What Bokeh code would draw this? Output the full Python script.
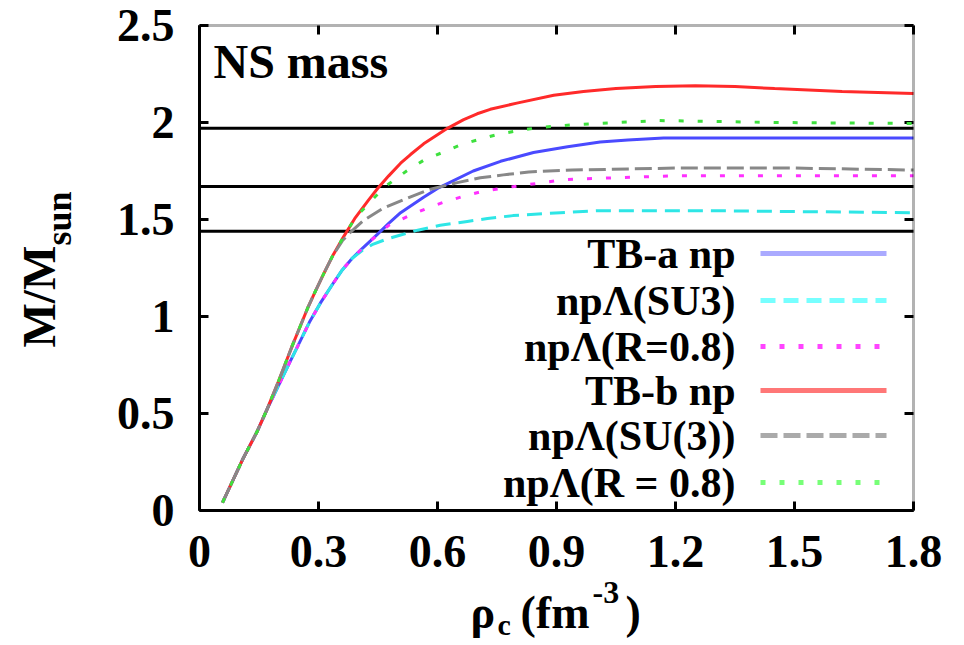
import math
from bokeh.plotting import figure
from bokeh.models import (Label, Arrow, FixedTicker, LinearAxis, Range1d,
                          BoxAnnotation, CustomJSTickFormatter)
from bokeh.embed import file_html
from bokeh.resources import INLINE

# ---------------- data ----------------
x_ticks = [0, 0.3, 0.6, 0.9, 1.2, 1.5, 1.8]
x_tick_labels = ["0", "0.3", "0.6", "0.9", "1.2", "1.5", "1.8"]
y_ticks = [0, 0.5, 1, 1.5, 2, 2.5]
y_tick_labels = ["0", "0.5", "1", "1.5", "2", "2.5"]

obs_masses = [1.97, 1.67, 1.44]

# TB-a np (blue, solid)
tba_np_rho = [0.058, 0.083, 0.108, 0.146, 0.17, 0.204, 0.229, 0.252, 0.277, 0.305,
              0.335, 0.36, 0.385, 0.41, 0.431, 0.449, 0.477, 0.507, 0.565, 0.60,
              0.625, 0.69, 0.759, 0.842, 0.928, 1.01, 1.08, 1.17, 1.4, 1.8]
tba_np_mass = [0.04, 0.15, 0.26, 0.41, 0.52, 0.665, 0.77, 0.865, 0.97, 1.07,
               1.165, 1.24, 1.30, 1.35, 1.39, 1.425, 1.48, 1.535, 1.615, 1.66,
               1.685, 1.75, 1.80, 1.845, 1.875, 1.90, 1.91, 1.92, 1.92, 1.92]

# TB-a np Lambda (SU3) (cyan, dashed)
tba_su3_rho = [0.058, 0.083, 0.108, 0.146, 0.17, 0.204, 0.229, 0.252, 0.277, 0.305,
               0.335, 0.36, 0.385, 0.41, 0.435, 0.473, 0.507, 0.55, 0.607, 0.675,
               0.726, 0.79, 0.91, 1.0, 1.3, 1.8]
tba_su3_mass = [0.04, 0.15, 0.26, 0.41, 0.52, 0.665, 0.77, 0.865, 0.97, 1.07,
                1.165, 1.24, 1.30, 1.34, 1.37, 1.40, 1.42, 1.445, 1.47, 1.49,
                1.505, 1.52, 1.535, 1.545, 1.545, 1.535]

# TB-a np Lambda (R=0.8) (magenta, dotted)
tba_r08_rho = [0.058, 0.083, 0.108, 0.146, 0.17, 0.204, 0.229, 0.252, 0.277, 0.305,
               0.335, 0.36, 0.385, 0.41, 0.431, 0.477, 0.524, 0.57, 0.613, 0.666,
               0.713, 0.759, 0.81, 0.867, 0.918, 0.968, 1.2, 1.5, 1.8]
tba_r08_mass = [0.04, 0.15, 0.26, 0.41, 0.52, 0.665, 0.77, 0.865, 0.97, 1.07,
                1.165, 1.24, 1.30, 1.35, 1.39, 1.47, 1.515, 1.555, 1.587, 1.62,
                1.645, 1.66, 1.675, 1.69, 1.705, 1.71, 1.725, 1.725, 1.725]

# TB-b np (red, solid)
tbb_np_rho = [0.058, 0.083, 0.108, 0.146, 0.17, 0.197, 0.217, 0.234, 0.255, 0.272,
              0.292, 0.313, 0.335, 0.36, 0.393, 0.426, 0.449, 0.477, 0.507, 0.532,
              0.565, 0.625, 0.666, 0.70, 0.733, 0.80, 0.893, 0.968, 1.05, 1.15,
              1.25, 1.35, 1.45, 1.62, 1.80]
tbb_np_mass = [0.04, 0.15, 0.26, 0.41, 0.52, 0.655, 0.76, 0.85, 0.955, 1.04,
               1.13, 1.22, 1.31, 1.40, 1.51, 1.60, 1.66, 1.725, 1.79, 1.835,
               1.89, 1.97, 2.015, 2.045, 2.068, 2.10, 2.14, 2.16, 2.175, 2.185,
               2.19, 2.185, 2.175, 2.16, 2.15]

# TB-b np Lambda (SU(3)) (grey, dashed)
tbb_su3_rho = [0.058, 0.083, 0.108, 0.146, 0.17, 0.197, 0.217, 0.234, 0.255, 0.272,
               0.292, 0.313, 0.335, 0.36, 0.378, 0.413, 0.461, 0.524, 0.58, 0.65,
               0.708, 0.766, 0.83, 0.94, 1.2, 1.5, 1.8]
tbb_su3_mass = [0.04, 0.15, 0.26, 0.41, 0.52, 0.655, 0.76, 0.85, 0.955, 1.04,
                1.13, 1.22, 1.31, 1.39, 1.43, 1.494, 1.556, 1.61, 1.655, 1.69,
                1.715, 1.73, 1.745, 1.755, 1.765, 1.765, 1.755]

# TB-b np Lambda (R = 0.8) (green, dotted)
tbb_r08_rho = [0.058, 0.083, 0.108, 0.146, 0.17, 0.197, 0.217, 0.234, 0.255, 0.272,
               0.292, 0.313, 0.335, 0.36, 0.393, 0.444, 0.475, 0.522, 0.565, 0.612,
               0.658, 0.708, 0.754, 0.81, 0.86, 0.953, 1.16, 1.457, 1.8]
tbb_r08_mass = [0.04, 0.15, 0.26, 0.41, 0.52, 0.655, 0.76, 0.85, 0.955, 1.04,
                1.13, 1.22, 1.31, 1.40, 1.51, 1.62, 1.68, 1.75, 1.805, 1.845,
                1.885, 1.915, 1.94, 1.96, 1.975, 1.99, 2.01, 2.0, 1.995]

series_labels = ["TB-a np", "np\u039b(SU3)", "np\u039b(R=0.8)",
                 "TB-b np", "np\u039b(SU(3))", "np\u039b(R = 0.8)"]

# ---------------- styles / layout ----------------
FONT = "Liberation Serif"
styles = [
    dict(color="#4a4aff", dash="solid", lg="#aaaaff"),
    dict(color="#2ee6e6", dash="15 8", lg="#77ffff"),
    dict(color="#ff30ff", dash="5 14", lg="#ff44ff"),
    dict(color="#ff2a2a", dash="solid", lg="#ff7777"),
    dict(color="#888888", dash="17 6", lg="#aaaaaa"),
    dict(color="#3ee03e", dash="5 14", lg="#77ff77"),
]
series = [(tba_np_rho, tba_np_mass), (tba_su3_rho, tba_su3_mass),
          (tba_r08_rho, tba_r08_mass), (tbb_np_rho, tbb_np_mass),
          (tbb_su3_rho, tbb_su3_mass), (tbb_r08_rho, tbb_r08_mass)]

W, H = 964, 645
# plot box on the page (pixels)
FL, FR, FT, FB = 199, 913, 25, 510
XMIN, XMAX, YMIN, YMAX = 0, 1.8, 0, 2.5
XS = (FR - FL) / (XMAX - XMIN)   # px per x unit
YS = (FB - FT) / (YMAX - YMIN)   # px per y unit
MID = 0.33                       # cap-centre above baseline, in em


def dx(px):
    return XMIN + (px - FL) / XS


def dy(py):
    return YMIN + (FB - py) / YS


p = figure(width=W, height=H,
           x_range=Range1d(dx(0), dx(W)), y_range=Range1d(dy(H), dy(0)),
           x_axis_type=None, y_axis_type=None,
           output_backend="svg", toolbar_location=None,
           min_border_left=0, min_border_right=0, min_border_top=0, min_border_bottom=0)
p.background_fill_color = "white"
p.border_fill_color = "white"
p.outline_line_color = None

FMT_CODE = ("const i = tks.findIndex(t => Math.abs(t - tick) < 1e-9); "
            "return i >= 0 ? lbls[i] : '';")
xfmt = CustomJSTickFormatter(args=dict(tks=x_ticks, lbls=x_tick_labels), code=FMT_CODE)
yfmt = CustomJSTickFormatter(args=dict(tks=y_ticks, lbls=y_tick_labels), code=FMT_CODE)


def make_axis(ticks, fmt, standoff, loc, bounds):
    ax = LinearAxis(fixed_location=loc, bounds=bounds)
    ax.ticker = FixedTicker(ticks=ticks)
    ax.formatter = fmt
    ax.axis_line_width = 3
    ax.axis_line_color = "black"
    ax.major_tick_in = 9
    ax.major_tick_out = 0
    ax.major_tick_line_width = 3
    ax.major_tick_line_color = "black"
    ax.minor_tick_line_color = None
    ax.major_label_text_font = FONT
    ax.major_label_text_font_style = "bold"
    ax.major_label_text_font_size = "46px"
    ax.major_label_text_color = "black"
    ax.major_label_standoff = standoff
    return ax


p.add_layout(make_axis(x_ticks, xfmt, 25, YMIN, (XMIN, XMAX)), "below")
p.add_layout(make_axis(y_ticks, yfmt, 25, XMIN, (YMIN, YMAX)), "left")

# plot box
p.add_layout(BoxAnnotation(left=XMIN, right=XMAX, bottom=YMIN, top=YMAX,
                           fill_color=None, line_color="black", line_width=3))
# mirrored ticks on top and right sides
TICK = 9
p.segment(x0=x_ticks, y0=[YMAX] * len(x_ticks), x1=x_ticks,
          y1=[YMAX - TICK / YS] * len(x_ticks), line_color="black", line_width=3)
p.segment(x0=[XMAX] * len(y_ticks), y0=y_ticks, x1=[XMAX - TICK / XS] * len(y_ticks),
          y1=y_ticks, line_color="black", line_width=3)

# observational mass lines
p.segment(x0=[XMIN] * len(obs_masses), y0=obs_masses, x1=[XMAX] * len(obs_masses),
          y1=obs_masses, line_color="black", line_width=3)

# curves
for (xs, ys), st in zip(series, styles):
    p.line(xs, ys, line_color=st["color"], line_width=3, line_dash=st["dash"])


def text(t, px, baseline_py, size, align="left", angle=0.0):
    """Place a bold serif text whose baseline is at the given page pixel."""
    if angle:
        x, y = dx(px - MID * size), dy(baseline_py)
    else:
        x, y = dx(px), dy(baseline_py - MID * size)
    p.add_layout(Label(x=x, y=y, text=t, text_align=align, angle=angle,
                       text_baseline="middle", text_font=FONT, text_font_style="bold",
                       text_font_size=f"{size}px", text_color="black"))


# legend (text right-aligned, sample to the right)
legend_rows_py = [253, 300, 346, 390, 435, 482]
for lab, st, py in zip(series_labels, styles, legend_rows_py):
    text(lab, 735, py + MID * 42, 42, align="right")
    p.add_layout(Arrow(end=None, x_start=dx(760), y_start=dy(py), x_end=dx(886), y_end=dy(py),
                       line_color=st["lg"], line_width=5, line_dash=st["dash"]))

# panel title
text("NS mass", 213, 77, 48)

# x axis label: rho_c (fm^-3)
text("\u03c1", 470, 627, 46)
text("c", 497, 634, 30)
text("(fm", 520, 627, 46)
text("-3", 592, 603, 32)
text(")", 625, 627, 46)

# y axis label: M/M_sun (rotated)
text("M/M", 54, 347, 47, angle=math.pi / 2)
text("sun", 70, 245, 36, angle=math.pi / 2)

open("out.html", "w").write(file_html(p, INLINE))
